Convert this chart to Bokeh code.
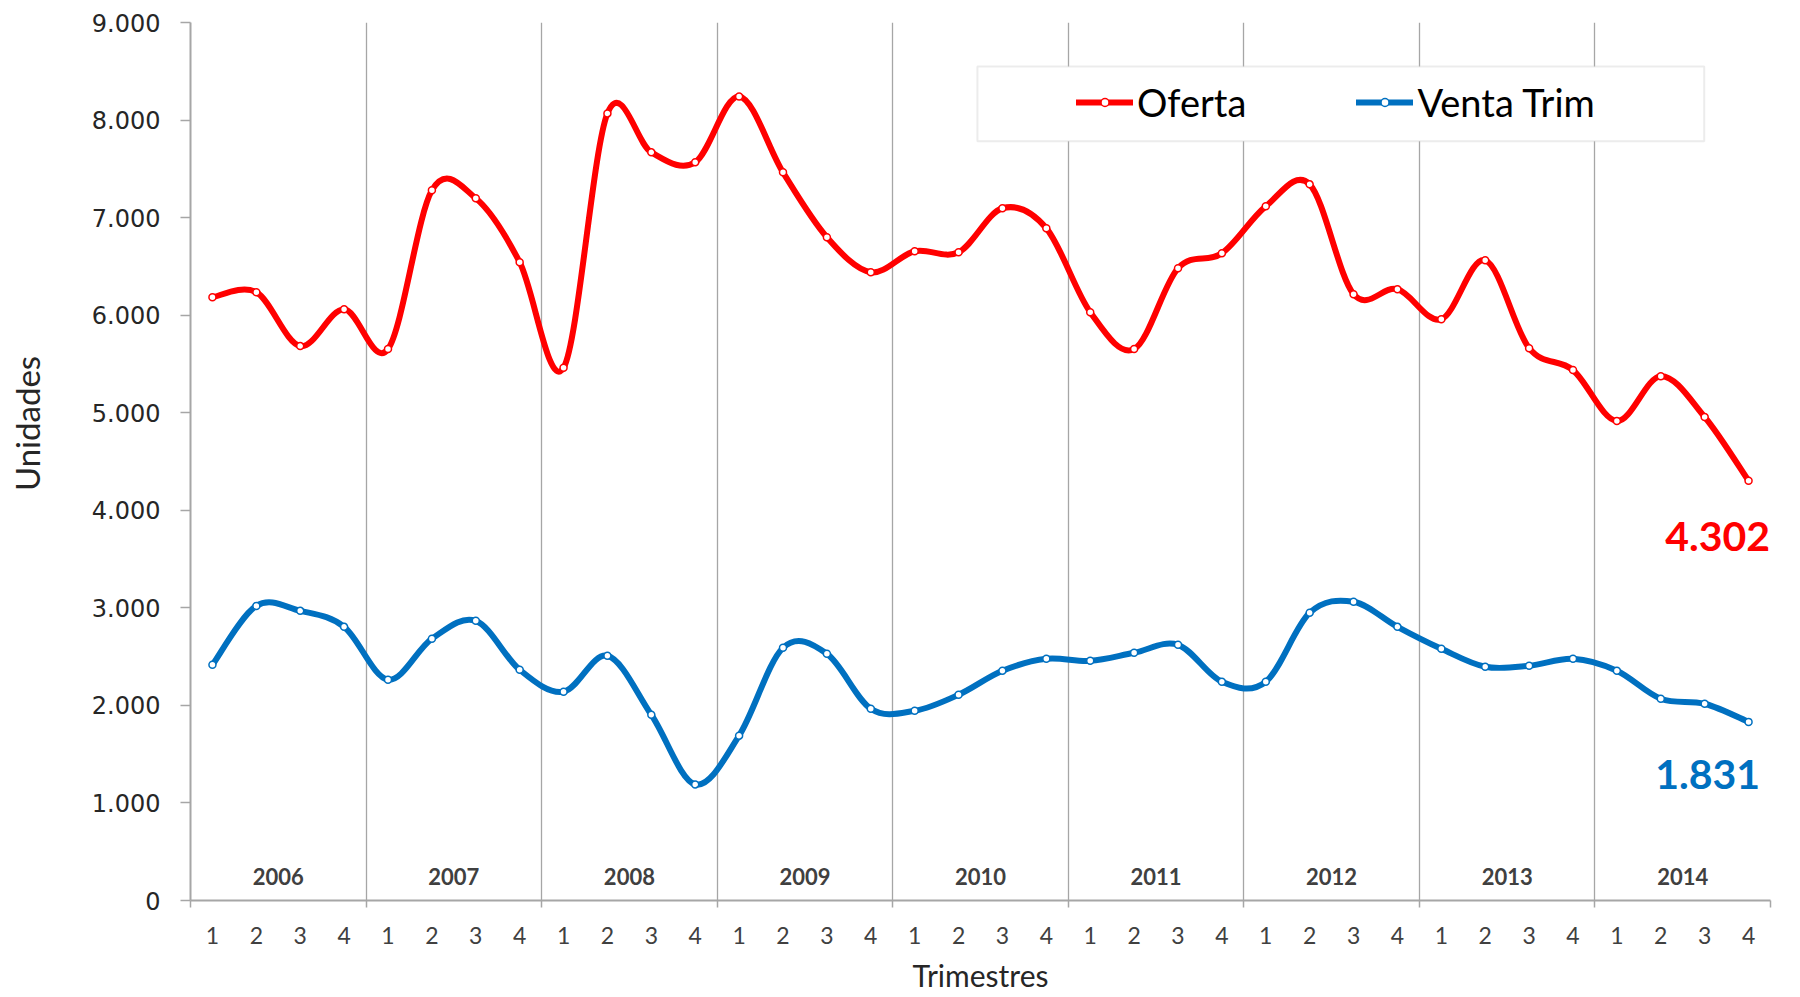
import numpy as np
from bokeh.plotting import figure
from bokeh.models import (FixedTicker, CustomJSTickFormatter, Legend, LegendItem,
                          Label, BoxAnnotation, Range1d)
from bokeh.core.properties import value
from bokeh.embed import file_html
from bokeh.resources import INLINE

years = ["2006", "2007", "2008", "2009", "2010", "2011", "2012", "2013", "2014"]
quarters = ["1", "2", "3", "4"]
oferta = [6184, 6235, 5683, 6061, 5652, 7280, 7198, 6543, 5460, 8068, 7669, 7567,
          8242, 7464, 6799, 6440, 6655, 6645, 7096, 6891, 6031, 5652, 6481, 6635,
          7116, 7341, 6215, 6266, 5959, 6563, 5662, 5437, 4915, 5375, 4956, 4302]
venta = [2416, 3020, 2969, 2805, 2263, 2683, 2867, 2365, 2140, 2509, 1904, 1190,
         1690, 2590, 2529, 1966, 1945, 2109, 2355, 2478, 2457, 2539, 2621, 2242,
         2242, 2949, 3062, 2805, 2580, 2396, 2406, 2478, 2355, 2068, 2017, 1831]
y_ticks = [0, 1000, 2000, 3000, 4000, 5000, 6000, 7000, 8000, 9000]

RED = "#FF0000"
BLUE = "#0070C0"
GRAY = "#A6A6A6"
FONT = "Lato"

n = len(oferta)
xs = np.arange(n, dtype=float)
boundaries = [-0.5 + 4 * k for k in range(len(years) + 1)]


def fmt(v):
    return f"{int(v):,}".replace(",", ".")


p = figure(width=1784, height=997, output_backend="svg", toolbar_location=None,
           x_range=Range1d(-0.5, n - 0.5), y_range=Range1d(0, 9000),
           min_border_left=190, min_border_right=14, min_border_top=22,
           min_border_bottom=97)
p.outline_line_color = None
p.background_fill_color = "white"

# grid: vertical year separators only
p.ygrid.visible = False
p.xgrid.ticker = FixedTicker(ticks=boundaries)
p.xgrid.grid_line_color = GRAY
p.xgrid.grid_line_width = 1.3

# y axis
p.yaxis.ticker = FixedTicker(ticks=y_ticks)
p.yaxis.formatter = CustomJSTickFormatter(
    code=r"return tick.toFixed(0).replace(/\B(?=(\d{3})+(?!\d))/g, '.');")
p.yaxis.axis_line_color = GRAY
p.yaxis.axis_line_width = 2
p.yaxis.major_tick_line_color = GRAY
p.yaxis.major_tick_line_width = 1.5
p.yaxis.major_tick_out = 10
p.yaxis.major_tick_in = 0
p.yaxis.minor_tick_line_color = None
p.yaxis.major_label_text_font = "DejaVu Sans"
p.yaxis.major_label_text_font_size = "24px"
p.yaxis.major_label_text_color = "#262626"
p.yaxis.major_label_standoff = 20
p.yaxis.axis_label = "\u00a0" * 9 + "Unidades"
p.yaxis.axis_label_text_font = FONT
p.yaxis.axis_label_text_font_size = "33px"
p.yaxis.axis_label_text_font_style = "normal"
p.yaxis.axis_label_text_color = "#262626"
p.yaxis.axis_label_standoff = 42

# x axis
p.xaxis.ticker = FixedTicker(ticks=list(range(n)), minor_ticks=boundaries)
p.xaxis.major_label_overrides = {i: quarters[i % 4] for i in range(n)}
p.xaxis.axis_line_color = GRAY
p.xaxis.axis_line_width = 2
p.xaxis.major_tick_line_color = None
p.xaxis.major_tick_out = 0
p.xaxis.major_tick_in = 0
p.xaxis.minor_tick_line_color = GRAY
p.xaxis.minor_tick_line_width = 1.5
p.xaxis.minor_tick_out = 7
p.xaxis.minor_tick_in = 0
p.xaxis.major_label_text_font = FONT
p.xaxis.major_label_text_font_size = "23px"
p.xaxis.major_label_text_color = "#404040"
p.xaxis.major_label_standoff = 19
p.xaxis.axis_label = "Trimestres"
p.xaxis.axis_label_text_font = FONT
p.xaxis.axis_label_text_font_size = "30px"
p.xaxis.axis_label_text_font_style = "normal"
p.xaxis.axis_label_text_color = "#262626"
p.xaxis.axis_label_standoff = 10

# year labels inside the plot
year_label_y = 250
p.text(x=[4 * k + 1.5 for k in range(len(years))], y=[year_label_y] * len(years),
       text=years, text_align="center", text_baseline="middle",
       text_font=value(FONT), text_font_style="bold", text_font_size="22px",
       text_color="#404040")


def smooth(vals, color):
    y = np.asarray(vals, dtype=float)
    i = np.arange(n - 1)
    i0 = np.clip(i - 1, 0, n - 1)
    i3 = np.clip(i + 2, 0, n - 1)
    x1, y1 = xs[i], y[i]
    x2, y2 = xs[i + 1], y[i + 1]
    cx0 = x1 + (x2 - xs[i0]) / 6.0
    cy0 = y1 + (y2 - y[i0]) / 6.0
    cx1 = x2 - (xs[i3] - x1) / 6.0
    cy1 = y2 - (y[i3] - y1) / 6.0
    rl = p.bezier(x0=x1, y0=y1, x1=x2, y1=y2, cx0=cx0, cy0=cy0, cx1=cx1, cy1=cy1,
                  line_color=color, line_width=6, line_cap="round")
    rm = p.scatter(x=xs, y=y, marker="circle", size=7, fill_color="white",
                   line_color=color, line_width=1.5)
    return rl, rm


o_line, o_mark = smooth(oferta, RED)
v_line, v_mark = smooth(venta, BLUE)

# legend box
box = BoxAnnotation(left=17.43, right=33.99, bottom=7784, top=8550,
                    fill_color="white", fill_alpha=1.0,
                    line_color="#BFBFBF", line_width=2)
p.add_layout(box)

legend = Legend(items=[LegendItem(label="Oferta", renderers=[o_line, o_mark], index=0),
                       LegendItem(label="Venta Trim", renderers=[v_line, v_mark], index=0)],
                orientation="horizontal", location=(886, 775),
                border_line_color=None, background_fill_alpha=0,
                padding=0, margin=0, spacing=110, glyph_width=57,
                glyph_height=20, label_standoff=4,
                label_text_font=FONT, label_text_font_size="38px",
                label_text_color="black")
p.add_layout(legend)

# end-value labels
p.add_layout(Label(x=n - 1, y=oferta[-1], x_offset=-31, y_offset=-56,
                   text=fmt(oferta[-1]), text_align="center", text_baseline="middle",
                   text_font=FONT, text_font_style="bold", text_font_size="41px",
                   text_color=RED))
p.add_layout(Label(x=n - 1, y=venta[-1], x_offset=-41, y_offset=-53,
                   text=fmt(venta[-1]), text_align="center", text_baseline="middle",
                   text_font=FONT, text_font_style="bold", text_font_size="41px",
                   text_color=BLUE))

open("out.html", "w").write(file_html(p, INLINE))
